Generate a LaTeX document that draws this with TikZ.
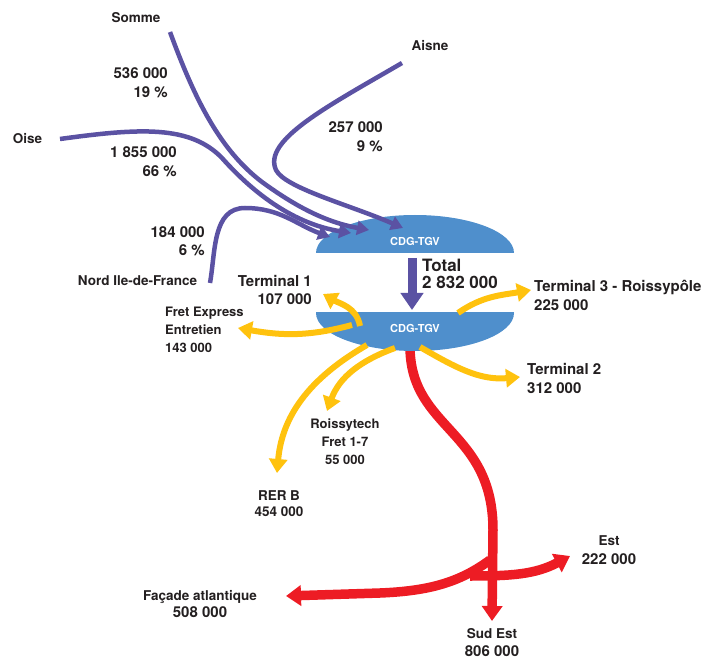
\documentclass[tikz,border=0pt]{standalone}
\usepackage{fontspec}
\setmainfont{TeX Gyre Heros}
\usepackage{tikz}
\usetikzlibrary{arrows.meta}
\usepackage{xcolor}

\definecolor{flowpurple}{HTML}{5B52A3}
\definecolor{gareblue}{HTML}{4F8FCC}
\definecolor{flowyellow}{HTML}{FFC20E}
\definecolor{flowred}{HTML}{ED1C24}
\definecolor{labeltext}{HTML}{231F20}
\newcommand{\numsize}{\fontsize{15}{19}\selectfont}

\begin{document}
\begin{tikzpicture}[x=1pt,y=-1pt,
  lbl/.style={inner sep=0pt,text=labeltext},
  namelbl/.style={lbl,font=\bfseries\fontsize{13.5}{17}\selectfont},
  smalllbl/.style={lbl,font=\bfseries\fontsize{13}{18}\selectfont},
  numlbl/.style={lbl,font=\bfseries\fontsize{15}{19}\selectfont},
  totallbl/.style={lbl,font=\bfseries\fontsize{17}{17}\selectfont},
  gare/.style={inner sep=0pt,text=white,font=\bfseries\fontsize{11}{13}\selectfont},
  inflow/.style={draw=flowpurple,line width=4.5pt,-{Triangle[length=12pt,width=14pt]}},
  outflow/.style={draw=flowyellow,line width=6pt,-{Triangle[length=14pt,width=18pt]}},
  tgvflow/.style={draw=flowred,line width=9.5pt,-{Triangle[length=15pt,width=20pt]}}]
\useasboundingbox (0,0) rectangle (707,660);

% ends of the flows
\coordinate (somme-s) at (170,32);
\coordinate (oise-s) at (60,139);
\coordinate (aisne-s) at (402,63);
\coordinate (nord-s) at (210,283);
\coordinate (nord-e) at (330,237);
\coordinate (oise-e) at (351,233);
\coordinate (somme-e) at (369,230);
\coordinate (aisne-e) at (403,228);
\coordinate (total-s) at (412,258);
\coordinate (total-e) at (412,310);
\coordinate (t1-s) at (360,326);
\coordinate (fret-s) at (352,325);
\coordinate (t3-s) at (458,313);
\coordinate (t2-s) at (420,347);
\coordinate (rt-s) at (395,348);
\coordinate (rer-s) at (367,345);
\coordinate (tgv-s) at (410,349);
\coordinate (tgv-fork) at (490,560);
\coordinate (est-s) at (470,576);

% TGV lines (under the station)
\draw[tgvflow] (tgv-s) .. controls (412,430) and (493,430) .. (493,530) -- (492,621);
\draw[tgvflow] (tgv-fork) .. controls (460,582) and (430,591) .. (380,593) -- (286,596);
\draw[tgvflow] (est-s) to[out=0,in=208] (570,556);

% the two halves of the station
\begin{scope}
\clip (300,200) rectangle (530,253);
\fill[gareblue] (415,253) ellipse [x radius=99,y radius=38];
\end{scope}
\begin{scope}
\clip (300,313) rectangle (530,360);
\fill[gareblue] (415,313) ellipse [x radius=99,y radius=38];
\end{scope}
\node[gare] (cdg-in) at (415,241) {CDG-TGV};
\node[gare] (cdg-out) at (415,328) {CDG-TGV};

% arrivals
\draw[inflow] (nord-s) to[out=80,in=180] (245,208) to[out=0,in=160] (nord-e);
\draw[inflow] (oise-s) .. controls (140,128) and (190,125) .. (222,158)
  .. controls (255,195) and (295,224) .. (oise-e);
\draw[inflow] (somme-s) .. controls (195,100) and (220,150) .. (262,182)
  .. controls (295,206) and (325,222) .. (somme-e);
\draw[inflow] (aisne-s) .. controls (330,105) and (262,140) .. (276,170)
  .. controls (285,188) and (350,205) .. (aisne-e);
\draw[flowpurple,line width=9pt,-{Triangle[length=17pt,width=22pt]}] (total-s) -- (total-e);

% departures
\draw[outflow] (t1-s) to[out=100,in=-30] (323,294);
\draw[outflow] (fret-s) to[out=195,in=-10] (238,328);
\draw[outflow] (t3-s) to[out=35,in=190] (531,290);
\draw[outflow] (t2-s) to[out=-30,in=185] (520,377);
\draw[outflow] (rt-s) to[out=200,in=70] (327,411);
\draw[outflow] (rer-s) to[out=210,in=85] (277,473);

% labels
\node[namelbl] (somme) at (136,18) {Somme};
\node[numlbl,anchor=east,align=right] (somme-n) at (168,83) {536 000\\19 \%};
\node[namelbl] (oise) at (27.5,139) {Oise};
\node[numlbl,anchor=east,align=right] (oise-n) at (177,162) {1 855 000\\66 \%};
\node[namelbl] (aisne) at (430,46) {Aisne};
\node[numlbl,anchor=east,align=right] (aisne-n) at (383,137) {257 000\\9 \%};
\node[numlbl,anchor=east,align=right] (nord-n) at (205,241) {184 000\\[-1pt]6 \%};
\node[namelbl] (nord) at (137.5,280.5) {Nord Ile-de-France};
\node[totallbl,anchor=west,align=left] (total) at (422,273.5) {Total\\2 832 000};
\node[numlbl,anchor=east,align=right] (term1) at (312,290) {Terminal 1\\[-1pt]107 000};
\node[smalllbl,anchor=west,align=left] (fret) at (165,329.5) {Fret Express\\Entretien\\143 000};
\node[numlbl,anchor=west,align=left] (term3) at (534,295) {Terminal 3 - Roissypôle\\225 000};
\node[numlbl,anchor=west,align=left] (term2) at (527,378) {Terminal 2\\312 000};
\node[smalllbl,align=center] (roissytech) at (345,442) {Roissytech\\Fret 1-7\\55 000};
\node[namelbl,align=center] (rerb) at (279,504) {RER B\\[-1pt]454 000};
\node[namelbl,align=center] (facade) at (200,604) {Façade atlantique\\[0.5pt]\numsize 508 000};
\node[namelbl,align=center] (est) at (609,550) {Est\\[2pt]\numsize 222 000};
\node[namelbl,align=center] (sudest) at (492,643) {Sud Est\\[1pt]\numsize 806 000};
\end{tikzpicture}
\end{document}
